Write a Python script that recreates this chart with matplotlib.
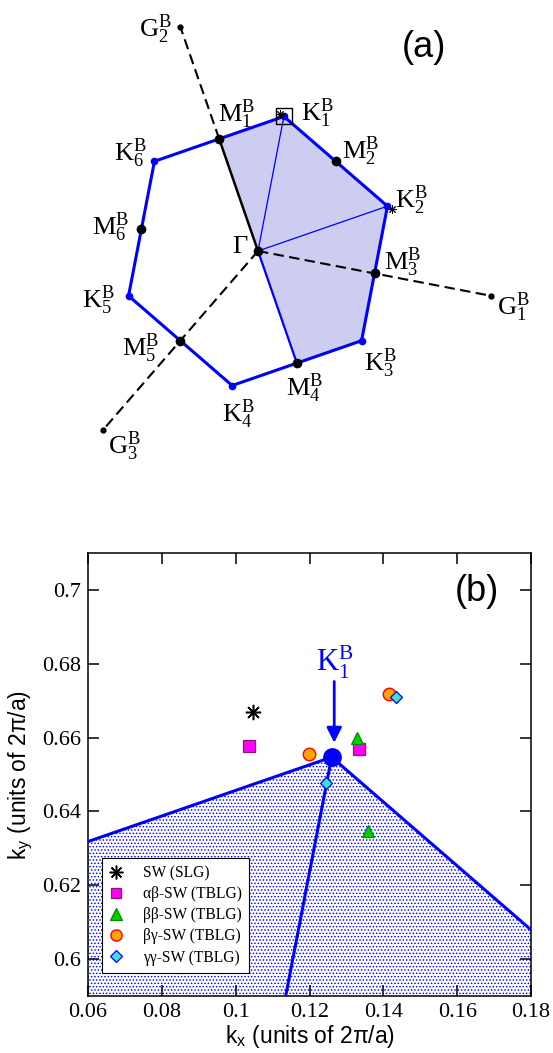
import numpy as np
import matplotlib
matplotlib.use("Agg")
import matplotlib.pyplot as plt
from matplotlib.ticker import FuncFormatter

# ---------------- data (units of 2*pi/a) ----------------
# Brillouin-zone corner points K1..K6 of layer B
K_x = [0.1260, 0.6299, 0.5040, -0.1260, -0.6299, -0.5040]
K_y = [0.6547, 0.2182, -0.4364, -0.6547, -0.2182, 0.4364]
# edge mid points M1..M6
M_x = [-0.1890, 0.3780, 0.5670, 0.1890, -0.3780, -0.5670]
M_y = [0.5456, 0.4365, -0.1091, -0.5456, -0.4365, 0.1091]
# reciprocal lattice points G1..G3
G_x = [1.1340, -0.3780, -0.7560]
G_y = [-0.2182, 1.0911, -0.8729]
Gamma_x, Gamma_y = 0.0, 0.0
# SW points shown in panel (a)
swa_x = [0.1047, 0.6525]
swa_y = [0.6670, 0.2045]

# panel (b) series
sw_slg_x = [0.1047]
sw_slg_y = [0.6670]
ab_x = [0.1036, 0.1334]
ab_y = [0.6576, 0.6568]
bb_x = [0.1330, 0.1359]
bb_y = [0.6599, 0.6347]
bg_x = [0.1199, 0.1414]
bg_y = [0.6556, 0.6718]
gg_x = [0.1435, 0.1245]
gg_y = [0.6711, 0.6478]
series_labels = ["SW (SLG)", "αβ-SW (TBLG)", "ββ-SW (TBLG)",
                 "βγ-SW (TBLG)", "γγ-SW (TBLG)"]
xticks = [0.06, 0.08, 0.1, 0.12, 0.14, 0.16, 0.18]
yticks = [0.6, 0.62, 0.64, 0.66, 0.68, 0.7]

SERIF = "Liberation Serif"
SANS = "Liberation Sans"
plt.rcParams["font.family"] = [SERIF, "DejaVu Serif"]
plt.rcParams["hatch.linewidth"] = 0.65

W, H = 553, 1053
fig = plt.figure(figsize=(W / 100, H / 100), dpi=100)

# ---------------- panel (a) ----------------
cx, cy, sc = 258.0, 251.0, 205.5   # pixel position of Gamma, px per unit
topH = 470.0
axA = fig.add_axes([0, 1 - topH / H, 1, topH / H])
axA.set_xlim(-cx / sc, (W - cx) / sc)
axA.set_ylim((cy - topH) / sc, cy / sc)
axA.axis("off")

# shaded irreducible part
px = [Gamma_x, M_x[0], K_x[0], K_x[1], K_x[2], M_x[3]]
py = [Gamma_y, M_y[0], K_y[0], K_y[1], K_y[2], M_y[3]]
axA.fill(px, py, facecolor="#cdcdf2", edgecolor="none", lw=0, zorder=1)

# dashed lines to G points
dash = (0, (5.0, 2.6))
axA.plot([Gamma_x, G_x[0]], [Gamma_y, G_y[0]], ls=dash, color="black", lw=1.5, zorder=2)
axA.plot([M_x[0], G_x[1]], [M_y[0], G_y[1]], ls=dash, color="black", lw=1.5, zorder=2)
axA.plot([Gamma_x, G_x[2]], [Gamma_y, G_y[2]], ls=dash, color="black", lw=1.5, zorder=2)
axA.plot([Gamma_x, M_x[0]], [Gamma_y, M_y[0]], color="black", lw=1.8, zorder=3)
axA.plot([Gamma_x, M_x[3]], [Gamma_y, M_y[3]], color="blue", lw=1.6, zorder=3)
axA.plot([Gamma_x, K_x[0]], [Gamma_y, K_y[0]], color="blue", lw=0.9, zorder=3)
axA.plot([Gamma_x, K_x[1]], [Gamma_y, K_y[1]], color="blue", lw=0.9, zorder=3)
# hexagon
hx = K_x + [K_x[0]]
hy = K_y + [K_y[0]]
axA.plot(hx, hy, color="blue", lw=2.2, zorder=4)
axA.plot(K_x, K_y, "o", color="blue", ms=4.5, zorder=5)
axA.plot(M_x, M_y, "o", color="black", ms=6, zorder=5)
axA.plot([Gamma_x], [Gamma_y], "o", color="black", ms=6, zorder=5)
axA.plot(G_x, G_y, "o", color="black", ms=3.5, zorder=5)
axA.plot([K_x[0]], [K_y[0]], "s", mfc="none", mec="black", ms=12, mew=1.0, zorder=6)
axA.plot(swa_x, swa_y, marker=(8, 2, 0), ls="none", color="black", ms=6, mew=0.7, zorder=6)

# labels (offsets in pixels: dx right, dy down; anchor ha)
lab_fs = 19
def lab(x, y, txt, dx, dy, ha):
    axA.annotate(txt, (x, y), xytext=(dx * 0.72, -dy * 0.72), textcoords="offset points",
                 ha=ha, va="baseline", fontsize=lab_fs, family=SERIF, zorder=7)

K_off = [(17, 4, "left"), (8, 2, "left"), (2, 30, "left"),
         (-10, 36, "left"), (-14, 12, "right"), (-8, 0, "right")]
M_off = [(-1, -17, "left"), (6, -2, "left"), (9, -4, "left"),
         (-11, 33, "left"), (-21, 15, "right"), (-12, 6, "right")]
G_off = [(6, 19, "left"), (-9, 10, "right"), (5, 24, "left")]
for i in range(6):
    lab(K_x[i], K_y[i], r"$\mathregular{K_{%d}^{B}}$" % (i + 1), *K_off[i])
    lab(M_x[i], M_y[i], r"$\mathregular{M_{%d}^{B}}$" % (i + 1), *M_off[i])
for i in range(3):
    lab(G_x[i], G_y[i], r"$\mathregular{G_{%d}^{B}}$" % (i + 1), *G_off[i])
lab(Gamma_x, Gamma_y, "Γ", -10.5, 2, "right")

fig.text(424 / W, 1 - 47.5 / H, "(a)", family=SANS, fontsize=26, ha="center", va="center")

# ---------------- panel (b) ----------------
L, R, T, B = 88, 531, 553, 996
axB = fig.add_axes([L / W, 1 - B / H, (R - L) / W, (B - T) / H])
axB.set_xlim(0.06, 0.18)
axB.set_ylim(0.59, 0.71)

axB.fill(K_x, K_y, facecolor="white", edgecolor="blue", hatch=".....", lw=0, zorder=1)
axB.plot(hx, hy, color="blue", lw=2.2, zorder=3)
axB.plot([Gamma_x, K_x[0]], [Gamma_y, K_y[0]], color="blue", lw=2.2, zorder=3)
axB.plot([K_x[0]], [K_y[0]], "o", color="blue", ms=12.5, zorder=4)

h1, = axB.plot(sw_slg_x, sw_slg_y, marker=(8, 2, 0), ls="none", color="black",
               ms=11, mew=1.1, zorder=5, label=series_labels[0])
h2, = axB.plot(ab_x, ab_y, "s", ls="none", mfc="#ff00ff", mec="#8b1a6b",
               ms=8.5, mew=0.9, zorder=5, label=series_labels[1])
h3, = axB.plot(bb_x, bb_y, "^", ls="none", mfc="#00d000", mec="#008a00",
               ms=9, mew=0.9, zorder=5, label=series_labels[2])
h4, = axB.plot(bg_x, bg_y, "o", ls="none", mfc="#ffa500", mec="#ff0000",
               ms=9, mew=1.0, zorder=5, label=series_labels[3])
h5, = axB.plot(gg_x, gg_y, "D", ls="none", mfc="#40e0d0", mec="#0000ff",
               ms=6.3, mew=0.9, zorder=6, label=series_labels[4])

# K1 arrow and label
axB.annotate("", xy=(0.1267, 0.6586), xytext=(0.1267, 0.6752),
             arrowprops=dict(arrowstyle="-|>,head_length=0.9,head_width=0.45",
                             color="blue", lw=2.0, shrinkA=0, shrinkB=0), zorder=6)
axB.text(0.1267, 0.6779, r"$\mathregular{K_{1}^{B}}$", color="blue", family=SERIF,
         fontsize=22, ha="center", va="baseline", zorder=6)
axB.text(0.1654, 0.6995, "(b)", family=SANS, fontsize=26, ha="center", va="center")

axB.set_xticks(xticks)
axB.set_yticks(yticks)
fmt = FuncFormatter(lambda v, p: "%g" % round(v, 4))
axB.xaxis.set_major_formatter(fmt)
axB.yaxis.set_major_formatter(fmt)
axB.tick_params(direction="in", length=8, width=1.1, top=True, right=True,
                labelsize=16, pad=5, labelfontfamily=SERIF)
for s in axB.spines.values():
    s.set_linewidth(1.1)

axB.set_xlabel(r"k$_\mathregular{x}$ (units of 2π/a)", family=SANS, fontsize=16.5)
axB.set_ylabel(r"k$_\mathregular{y}$ (units of 2π/a)", family=SANS, fontsize=16.5)
axB.xaxis.set_label_coords(0.502, -0.062)
axB.yaxis.set_label_coords(-0.12, 0.5)

leg = axB.legend(handles=[h1, h2, h3, h4, h5], loc="upper left",
                 bbox_to_anchor=((101.7 - L) / (R - L), (B - 858) / (B - T)),
                 borderaxespad=0, frameon=True, fancybox=False, framealpha=1,
                 edgecolor="black", prop={"family": SERIF, "size": 11.2},
                 handlelength=1.0, handletextpad=1.2, labelspacing=0.33,
                 borderpad=0.45, markerscale=0.9)
leg.get_frame().set_linewidth(0.8)
leg.set_zorder(10)

fig.savefig("out.png", dpi=100)
